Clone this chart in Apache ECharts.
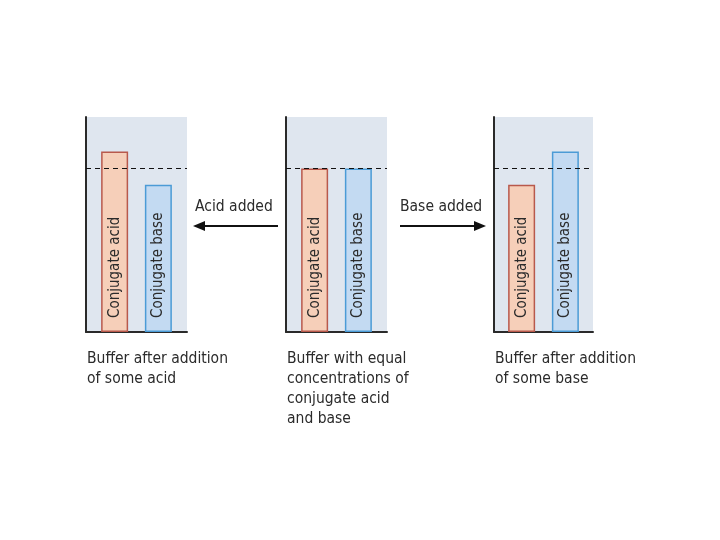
<!DOCTYPE html>
<html>
<head>
<meta charset="utf-8">
<script src="https://cdn.jsdelivr.net/npm/echarts@6/dist/echarts.min.js"></script>
<style>html,body{margin:0;padding:0;background:#fff;}#c{width:720px;height:540px;}</style>
</head>
<body>
<div id="c"></div>
<script>
// Data
var panels = ['Buffer after addition of some acid', 'Buffer with equal concentrations of conjugate acid and base', 'Buffer after addition of some base'];
var seriesNames = ['Conjugate acid', 'Conjugate base'];
var acidValues = [84, 76, 68.5];
var baseValues = [68.5, 76, 84];
var equalLevel = 76;
var captions = [
  'Buffer after addition\nof some acid',
  'Buffer with equal\nconcentrations of\nconjugate acid\nand base',
  'Buffer after addition\nof some base'
];
var arrowLabels = ['Acid added', 'Base added'];

var FONT = '"Liberation Sans Narrow", "DejaVu Sans Condensed", "Liberation Sans", sans-serif';
var gridLefts = [86, 286, 494];
var gridWidths = [101, 101, 99];

var grids = [], xAxes = [], yAxes = [], series = [];
for (var i = 0; i < 3; i++) {
  grids.push({left: gridLefts[i], width: gridWidths[i], top: 117, height: 215, show: true,
    backgroundColor: '#dfe6ef', borderWidth: 0});
  xAxes.push({type: 'category', gridIndex: i, data: [panels[i]],
    axisLine: {show: true, lineStyle: {color: '#2a2a2a', width: 2}},
    axisTick: {show: false}, axisLabel: {show: false}});
  yAxes.push({type: 'value', gridIndex: i, min: 0, max: 100,
    axisLine: {show: true, lineStyle: {color: '#2a2a2a', width: 2}},
    axisTick: {show: false}, axisLabel: {show: false}, splitLine: {show: false}});
  var lbl = {show: true, position: 'insideBottom', rotate: 90, align: 'left', verticalAlign: 'middle',
    distance: 14, fontFamily: FONT, fontSize: 15, color: '#2b2b2b', formatter: '{a}'};
  series.push({type: 'bar', name: seriesNames[0], xAxisIndex: i, yAxisIndex: i,
    data: [acidValues[i]], barWidth: 27, barGap: '62%',
    itemStyle: {color: '#f6cfb9', borderColor: '#b8594c', borderWidth: 1.5},
    label: lbl,
    markLine: {silent: true, symbol: 'none', label: {show: false},
      lineStyle: {type: [5, 4], color: '#111', width: 1.2},
      data: [{yAxis: equalLevel}]},
    z: 2});
  series.push({type: 'bar', name: seriesNames[1], xAxisIndex: i, yAxisIndex: i,
    data: [baseValues[i]], barWidth: 27, barGap: '62%',
    itemStyle: {color: '#c3daf2', borderColor: '#4b9bd6', borderWidth: 1.5},
    label: lbl, z: 2});
}

var graphics = [];
for (var j = 0; j < 3; j++) {
  graphics.push({type: 'text', left: gridLefts[j] + 1, top: 349,
    style: {text: captions[j], font: '15.5px ' + FONT, fill: '#2b2b2b', lineHeight: 20}});
}
// arrow labels
graphics.push({type: 'text', left: 195, top: 199, style: {text: arrowLabels[0], font: '15.5px ' + FONT, fill: '#2b2b2b'}});
graphics.push({type: 'text', left: 400, top: 199, style: {text: arrowLabels[1], font: '15.5px ' + FONT, fill: '#2b2b2b'}});
// arrows
graphics.push({type: 'line', shape: {x1: 278, y1: 226, x2: 200, y2: 226}, style: {stroke: '#111', lineWidth: 2}});
graphics.push({type: 'polygon', shape: {points: [[193, 226], [205, 221], [205, 231]]}, style: {fill: '#111'}});
graphics.push({type: 'line', shape: {x1: 400, y1: 226, x2: 478, y2: 226}, style: {stroke: '#111', lineWidth: 2}});
graphics.push({type: 'polygon', shape: {points: [[486, 226], [474, 221], [474, 231]]}, style: {fill: '#111'}});

var chart = echarts.init(document.getElementById('c'), null, {renderer: 'canvas'});
chart.setOption({
  animation: false,
  backgroundColor: '#ffffff',
  grid: grids, xAxis: xAxes, yAxis: yAxes, series: series,
  graphic: graphics
});
</script>
</body>
</html>
